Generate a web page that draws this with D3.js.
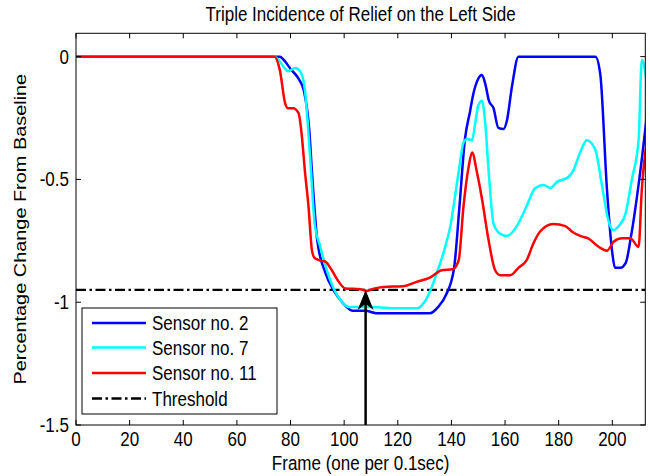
<!DOCTYPE html>
<html>
<head>
<meta charset="utf-8">
<script src="https://cdn.jsdelivr.net/npm/d3@7"></script>
<style>
  html, body { margin: 0; padding: 0; background: #fff; }
  svg { display: block; }
  text { font-family: "Liberation Sans", Arial, Helvetica, sans-serif; fill: #000; }
</style>
</head>
<body>
<svg id="chart" width="650" height="476"></svg>
<script>
// ---------------- data ----------------
const title = "Triple Incidence of Relief on the Left Side";
const xLabel = "Frame (one per 0.1sec)";
const yLabel = "Percentage Change From Baseline";
const xTicks = [0, 20, 40, 60, 80, 100, 120, 140, 160, 180, 200];
const yTicks = [0, -0.5, -1, -1.5];
const yTickLabels = ["0", "-0.5", "-1", "-1.5"];
const seriesNames = ["Sensor no. 2", "Sensor no. 7", "Sensor no. 11"];
const seriesColors = ["#0000ff", "#00ffff", "#ff0000"];
const thresholdName = "Threshold";
const thresholdValue = -0.95;
const arrowFrame = 108;

const sensor2Frames = [0,76,78,80,83,85,87,88,90,93,96,98.5,101,103,108,112,116,132,135,138,141,143,145,147,148,150,151.4,152.6,154,155.7,157.5,159.4,160.7,162.6,165,193.7,195.5,198,200,201,203,205,207,210.4,213.4];
const sensor2Values = [0,0,-0.02,-0.05,-0.09,-0.14,-0.3,-0.47,-0.75,-0.88,-0.95,-0.99,-1.02,-1.035,-1.035,-1.045,-1.045,-1.045,-1.02,-0.97,-0.86,-0.61,-0.34,-0.22,-0.16,-0.09,-0.075,-0.11,-0.18,-0.21,-0.29,-0.295,-0.26,-0.12,0,0,-0.07,-0.54,-0.80,-0.86,-0.86,-0.84,-0.73,-0.47,-0.19];

const sensor7Frames = [0,74,76,78,79,81.7,83.6,85.4,87.3,89,91,94.8,98.5,102,110,120,127,131,134.6,137,139.6,142.7,144.5,145.8,147.7,148.9,150,151.4,152.6,153.9,155.7,158,160.7,164.4,168,171.3,174.4,176.9,179.4,183.7,185.6,188,190.5,193.7,196,198.6,200.5,202.4,204.9,207.3,209.8,211,213];
const sensor7Values = [0,0,-0.02,-0.05,-0.06,-0.046,-0.06,-0.14,-0.41,-0.68,-0.77,-0.91,-0.99,-1.02,-1.02,-1.025,-1.025,-0.98,-0.88,-0.80,-0.69,-0.47,-0.35,-0.335,-0.34,-0.27,-0.20,-0.18,-0.27,-0.47,-0.68,-0.72,-0.73,-0.69,-0.61,-0.535,-0.523,-0.535,-0.51,-0.49,-0.46,-0.39,-0.34,-0.38,-0.515,-0.67,-0.707,-0.69,-0.64,-0.50,-0.34,-0.013,-0.12];

const sensor11Frames = [0,74,76,78,79,81,83,84,85.4,86.7,88,89,91,93,95.4,98,100.4,106,108.5,111,114.7,122,127,132,136.4,140.5,142.7,144.5,146.4,147.7,149.5,151.4,153.9,156.3,158.2,162,165,168,170.6,173,178,182.5,185,188,191,195,198,200.5,203.6,206.7,209.8,211,213.5];
const sensor11Values = [0,0,-0.054,-0.19,-0.21,-0.21,-0.23,-0.30,-0.47,-0.61,-0.79,-0.82,-0.83,-0.835,-0.87,-0.917,-0.944,-0.947,-0.954,-0.945,-0.938,-0.935,-0.917,-0.90,-0.87,-0.866,-0.83,-0.61,-0.45,-0.39,-0.47,-0.58,-0.75,-0.87,-0.89,-0.89,-0.86,-0.83,-0.76,-0.713,-0.682,-0.69,-0.713,-0.73,-0.74,-0.775,-0.79,-0.754,-0.74,-0.74,-0.775,-0.54,-0.31];

const xDomain = [0, 212.3];
const yDomain = [-1.5, 0.095];

// ---------------- layout ----------------
const svg = d3.select("#chart");
const L = 76, R = 645.3, T = 33.3, B = 425;
const FS = 17, STRETCH = 1.17;

const x = d3.scaleLinear().domain(xDomain).range([L, R]);
const y = d3.scaleLinear().domain(yDomain).range([B, T]);

function addText(g, tx, ty, str, anchor, rotate) {
  const t = g.append("text")
    .attr("transform", rotate
      ? `translate(${tx},${ty}) rotate(-90) scale(${STRETCH},1)`
      : `translate(${tx},${ty}) scale(1,${STRETCH})`)
    .attr("text-anchor", anchor)
    .style("font-size", FS + "px")
    .text(str);
  return t;
}

svg.append("rect").attr("width", 650).attr("height", 476).attr("fill", "#fff");

svg.append("defs").append("clipPath").attr("id", "clip")
  .append("rect").attr("x", L).attr("y", T).attr("width", R - L).attr("height", B - T);

const plot = svg.append("g").attr("clip-path", "url(#clip)");

const line = d3.line().x(d => x(d[0])).y(d => y(d[1])).curve(d3.curveMonotoneX);

const series = [
  d3.zip(sensor2Frames, sensor2Values),
  d3.zip(sensor7Frames, sensor7Values),
  d3.zip(sensor11Frames, sensor11Values)
];

// threshold
plot.append("line")
  .attr("x1", x(xDomain[0])).attr("x2", x(xDomain[1]))
  .attr("y1", y(thresholdValue)).attr("y2", y(thresholdValue))
  .attr("stroke", "#000").attr("stroke-width", 2.2)
  .attr("stroke-dasharray", "10,3.5,2.5,3.5");

series.forEach((s, i) => {
  plot.append("path").datum(s)
    .attr("d", line)
    .attr("fill", "none")
    .attr("stroke", seriesColors[i])
    .attr("stroke-width", 2.5)
    .attr("stroke-linejoin", "round");
});

// arrow
const ax = x(arrowFrame), ay = y(thresholdValue);
svg.append("line")
  .attr("x1", ax).attr("x2", ax).attr("y1", y(yDomain[0])).attr("y2", ay + 10)
  .attr("stroke", "#000").attr("stroke-width", 2.5);
svg.append("path")
  .attr("d", `M${ax},${ay} L${ax + 8},${ay + 20} L${ax},${ay + 14} L${ax - 8},${ay + 20} Z`)
  .attr("fill", "#000");

// axes ticks (inside, on all four sides)
const axesG = svg.append("g");
const tickLen = 5;
xTicks.forEach(v => {
  axesG.append("line").attr("x1", x(v)).attr("x2", x(v)).attr("y1", B).attr("y2", B - tickLen).attr("stroke", "#000");
  axesG.append("line").attr("x1", x(v)).attr("x2", x(v)).attr("y1", T).attr("y2", T + tickLen).attr("stroke", "#000");
  addText(axesG, x(v), 446, String(v), "middle");
});
yTicks.forEach((v, i) => {
  axesG.append("line").attr("x1", L).attr("x2", L + tickLen).attr("y1", y(v)).attr("y2", y(v)).attr("stroke", "#000");
  axesG.append("line").attr("x1", R).attr("x2", R - tickLen).attr("y1", y(v)).attr("y2", y(v)).attr("stroke", "#000");
  addText(axesG, 69, y(v) + 7, yTickLabels[i], "end");
});
axesG.append("rect").attr("x", L).attr("y", T).attr("width", R - L).attr("height", B - T)
  .attr("fill", "none").attr("stroke", "#000").attr("stroke-width", 1);

// title and labels
addText(svg, (L + R) / 2, 21, title, "middle");
addText(svg, (L + R) / 2, 470, xLabel, "middle");
addText(svg, 26, (T + B) / 2, yLabel, "middle", true);

// legend
const lg = svg.append("g");
lg.append("rect").attr("x", 82).attr("y", 308).attr("width", 195).attr("height", 106)
  .attr("fill", "#fff").attr("stroke", "#000").attr("stroke-width", 1);
const rows = [323, 347.5, 373, 398.5];
const legendNames = seriesNames.concat([thresholdName]);
legendNames.forEach((n, i) => {
  const ln = lg.append("line").attr("x1", 92).attr("x2", 146).attr("y1", rows[i]).attr("y2", rows[i])
    .attr("stroke-width", 2.5);
  if (i < 3) ln.attr("stroke", seriesColors[i]);
  else ln.attr("stroke", "#000").attr("stroke-dasharray", "10,3.5,2.5,3.5");
  addText(lg, 152, rows[i] + 7, n, "start");
});
</script>
</body>
</html>
